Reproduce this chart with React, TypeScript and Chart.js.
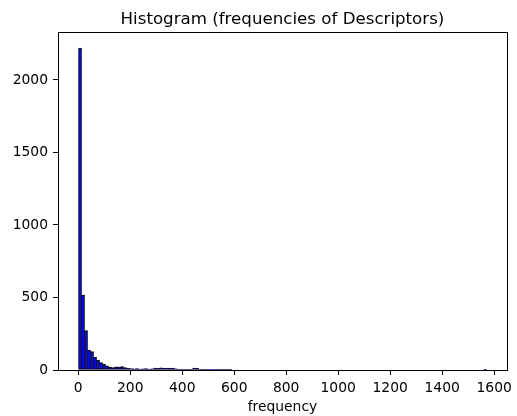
import React, { useEffect, useRef } from "react";
import { Chart, registerables } from "chart.js";

Chart.register(...registerables);

const TITLE = "Histogram (frequencies of Descriptors)";
const X_LABEL = "frequency";
const BIN_START = 1;
const BIN_WIDTH = 11.55;
// counts per bin (136 bins)
const COUNTS = [
  2220, 517, 272, 138, 127, 88, 69, 51, 39, 28,
  20, 17, 22, 20, 23, 16, 12, 10, 8, 9,
  7, 8, 9, 7, 8, 14, 12, 15, 11, 14,
  12, 13, 8, 5, 4, 3, 4, 3, 14, 12,
  3, 2, 2, 1, 2, 1, 1, 2, 1, 1,
  1, 0, 0, 0, 0, 0, 0, 0, 0, 0,
  0, 0, 0, 0, 0, 0, 0, 0, 0, 0,
  0, 0, 0, 0, 0, 0, 0, 0, 0, 0,
  0, 0, 0, 0, 0, 0, 0, 0, 0, 0,
  0, 0, 0, 0, 0, 0, 0, 0, 0, 0,
  0, 0, 0, 0, 0, 0, 0, 0, 0, 0,
  0, 0, 0, 0, 0, 0, 0, 0, 0, 0,
  0, 0, 0, 0, 0, 0, 0, 0, 0, 0,
  0, 0, 0, 0, 0, 1,
];
const X_TICKS = [0, 200, 400, 600, 800, 1000, 1200, 1400, 1600];
const Y_TICKS = [0, 500, 1000, 1500, 2000];
const X_MIN = -78;
const X_MAX = 1649;
const Y_MAX = 2331;

const FONT = "DejaVu Sans";

const boxPlugin = {
  id: "boxAndTexts",
  afterDatasetsDraw(chart: any) {
    const { ctx, chartArea } = chart;
    ctx.save();
    ctx.strokeStyle = "#000";
    ctx.lineWidth = 1;
    ctx.strokeRect(
      Math.round(chartArea.left) + 0.5,
      Math.round(chartArea.top) + 0.5,
      Math.round(chartArea.right - chartArea.left),
      Math.round(chartArea.bottom - chartArea.top)
    );
    const cx = (chartArea.left + chartArea.right) / 2;
    ctx.fillStyle = "#000";
    ctx.textAlign = "center";
    ctx.textBaseline = "alphabetic";
    ctx.font = `16.67px "${FONT}"`;
    ctx.fillText(TITLE, cx, 24);
    ctx.font = `13.89px "${FONT}"`;
    ctx.fillText(X_LABEL, cx, 411);
    ctx.restore();
  },
};

export default function App() {
  const ref = useRef<HTMLCanvasElement>(null);
  useEffect(() => {
    const data = COUNTS.map((c, i) => ({
      x: BIN_START + BIN_WIDTH * (i + 0.5),
      y: c,
    }));
    const chart = new Chart(ref.current!, {
      type: "bar",
      data: {
        datasets: [
          {
            data: data as any,
            backgroundColor: "#0000ff",
            borderColor: "#000000",
            borderWidth: 1,
            borderSkipped: false,
            barPercentage: 1,
            categoryPercentage: 1,
          },
        ],
      },
      options: {
        animation: false,
        responsive: false,
        devicePixelRatio: 1,
        layout: { padding: { top: 32, right: 7, left: 0, bottom: 0 } },
        plugins: {
          legend: { display: false },
          title: { display: false },
          tooltip: { enabled: false },
        },
        scales: {
          x: {
            type: "linear",
            offset: false,
            min: X_MIN,
            max: X_MAX,
            afterBuildTicks: (s: any) => {
              s.ticks = X_TICKS.map((v) => ({ value: v }));
            },
            afterFit: (s: any) => {
              s.height = 46;
            },
            grid: {
              display: true,
              offset: false,
              drawOnChartArea: false,
              drawTicks: true,
              tickLength: 5,
              color: "#000",
            },
            border: { display: false },
            ticks: {
              color: "#000",
              padding: 5,
              maxRotation: 0,
              autoSkip: false,
              callback: (v: any) => String(v),
              font: { family: FONT, size: 13.89 },
            },
          },
          y: {
            type: "linear",
            min: 0,
            max: Y_MAX,
            afterBuildTicks: (s: any) => {
              s.ticks = Y_TICKS.map((v) => ({ value: v }));
            },
            afterFit: (s: any) => {
              s.width = 58;
            },
            grid: {
              display: true,
              drawOnChartArea: false,
              drawTicks: true,
              tickLength: 5,
              color: "#000",
            },
            border: { display: false },
            ticks: {
              color: "#000",
              padding: 5,
              autoSkip: false,
              callback: (v: any) => String(v),
              font: { family: FONT, size: 13.89 },
            },
          },
        },
      },
      plugins: [boxPlugin],
    });
    return () => chart.destroy();
  }, []);
  return (
    <div style={{ position: "absolute", left: 0, top: 0, width: 517, height: 416, background: "#fff" }}>
      <canvas ref={ref} width={517} height={416} style={{ width: 517, height: 416 }} />
    </div>
  );
}
